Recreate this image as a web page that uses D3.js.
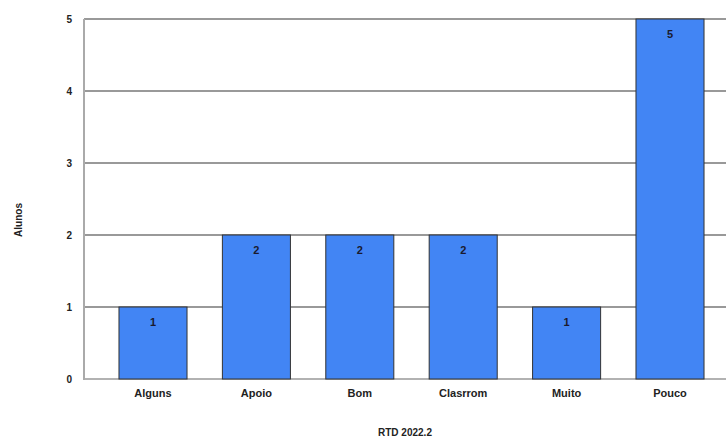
<!DOCTYPE html>
<html>
<head>
<meta charset="utf-8">
<script src="https://cdn.jsdelivr.net/npm/d3@7"></script>
<style>
  html, body { margin: 0; padding: 0; background: #fff; }
  svg { display: block; font-family: "Liberation Sans", Arial, sans-serif; }
</style>
</head>
<body>
<svg id="chart" width="726" height="440"></svg>
<script>
// Respostas dos alunos por categoria
const categories = ["Alguns", "Apoio", "Bom", "Clasrrom", "Muito", "Pouco"];
const values = [1, 2, 2, 2, 1, 5];
const yTicks = [0, 1, 2, 3, 4, 5];
const yTitle = "Alunos";
const xTitle = "RTD 2022.2";

const svg = d3.select("#chart");
const plotLeft = 84, plotRight = 726, plotTop = 19, plotBottom = 379;

const x = d3.scaleBand()
  .domain(categories)
  .range([101.3, 721.7])
  .paddingInner(0.342)
  .paddingOuter(0.171);

const y = d3.scaleLinear()
  .domain([0, 5])
  .range([plotBottom, plotTop]);

// horizontal gridlines
svg.append("g")
  .selectAll("line")
  .data(yTicks)
  .join("line")
  .attr("x1", plotLeft)
  .attr("x2", plotRight)
  .attr("y1", d => y(d))
  .attr("y2", d => y(d))
  .attr("stroke", d => d === 0 ? "#999" : "#777")
  .attr("stroke-width", 1.3);

// left axis line
svg.append("line")
  .attr("x1", plotLeft).attr("x2", plotLeft)
  .attr("y1", plotTop).attr("y2", plotBottom + 1)
  .attr("stroke", "#aaa")
  .attr("stroke-width", 2);

// y tick labels
const yAxis = d3.axisLeft(y).tickValues(yTicks).tickSize(0).tickPadding(12).tickFormat(d3.format("d"));
const gy = svg.append("g").attr("transform", `translate(${plotLeft},0)`).call(yAxis);
gy.select(".domain").remove();
gy.selectAll("text")
  .attr("font-size", 10)
  .attr("font-weight", "bold")
  .attr("fill", "#222")
  .attr("font-family", "Liberation Sans, Arial, sans-serif");

const rows = categories.map((c, i) => ({ c, v: values[i] }));

// bars
svg.append("g")
  .selectAll("rect")
  .data(rows)
  .join("rect")
  .attr("x", d => x(d.c))
  .attr("y", d => y(d.v))
  .attr("width", x.bandwidth())
  .attr("height", d => y(0) - y(d.v))
  .attr("fill", "#4285f4")
  .attr("stroke", "#333")
  .attr("stroke-width", 1);

// value labels
svg.append("g")
  .selectAll("text")
  .data(rows)
  .join("text")
  .attr("x", d => x(d.c) + x.bandwidth() / 2)
  .attr("y", d => y(d.v) + 19)
  .attr("text-anchor", "middle")
  .attr("font-size", 11)
  .attr("font-weight", "bold")
  .attr("fill", "#1a1a2e")
  .text(d => d.v);

// x category labels
const xAxis = d3.axisBottom(x).tickSize(0).tickPadding(10);
const gx = svg.append("g").attr("transform", `translate(0,${plotBottom})`).call(xAxis);
gx.select(".domain").remove();
gx.selectAll("text")
  .attr("font-size", 11)
  .attr("font-weight", "bold")
  .attr("fill", "#222")
  .attr("font-family", "Liberation Sans, Arial, sans-serif");

// axis titles
svg.append("text")
  .attr("transform", "translate(22,220) rotate(-90)")
  .attr("text-anchor", "middle")
  .attr("font-size", 10)
  .attr("font-weight", "bold")
  .attr("fill", "#222")
  .text(yTitle);

svg.append("text")
  .attr("x", 405)
  .attr("y", 436)
  .attr("text-anchor", "middle")
  .attr("font-size", 10)
  .attr("font-weight", "bold")
  .attr("fill", "#222")
  .text(xTitle);
</script>
</body>
</html>
